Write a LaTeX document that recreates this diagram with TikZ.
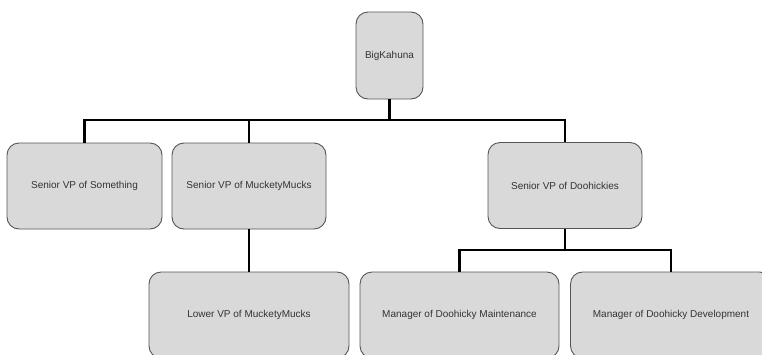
\documentclass[tikz,border=0pt]{standalone}
\usepackage{fontspec}
\setmainfont{Liberation Sans}
\definecolor{boxfill}{HTML}{D9D9D9}
\definecolor{boxline}{HTML}{555555}
\definecolor{txt}{HTML}{333333}
\begin{document}
\begin{tikzpicture}[x=1pt,y=1pt,
  orgbox/.style={draw=boxline, line width=0.9pt, fill=boxfill, rounded corners=12pt,
    text=txt, font=\fontsize{10}{12}\selectfont, inner sep=0pt},
  link/.style={draw=black, line width=2.4pt}]
\clip (0,0) rectangle (762,-354);
\fill[white] (0,0) rectangle (762,-354);
\node[orgbox, minimum width=67pt, minimum height=87pt] (big) at (389.5,-55.5) {BigKahuna};
\node[orgbox, minimum width=155pt, minimum height=86pt] (s1) at (84.5,-186) {Senior VP of Something};
\node[orgbox, minimum width=154pt, minimum height=86pt] (s2) at (249,-186) {Senior VP of MucketyMucks};
\node[orgbox, minimum width=154pt, minimum height=86pt] (s3) at (565,-185.5) {Senior VP of Doohickies};
\node[orgbox, minimum width=200pt, minimum height=86pt] (low) at (249,-315) {Lower VP of MucketyMucks};
\node[orgbox, minimum width=199pt, minimum height=86pt] (m1) at (459.5,-315) {Manager of Doohicky Maintenance};
\node[orgbox, minimum width=201pt, minimum height=86pt] (m2) at (671,-315) {Manager of Doohicky Development};
\coordinate (j1) at (389.5,-120);
\coordinate (j2) at (565,-250);
\draw[link] (big.south) -- (j1);
\draw[link] (s1.north) |- (j1) -| (s3.north);
\draw[link] (s2.north) -- (s2.north |- j1);
\draw[link] (s2.south) -- (low.north);
\draw[link] (s3.south) -- (j2);
\draw[link] (m1.north) |- (j2) -| (m2.north);
\end{tikzpicture}
\end{document}
